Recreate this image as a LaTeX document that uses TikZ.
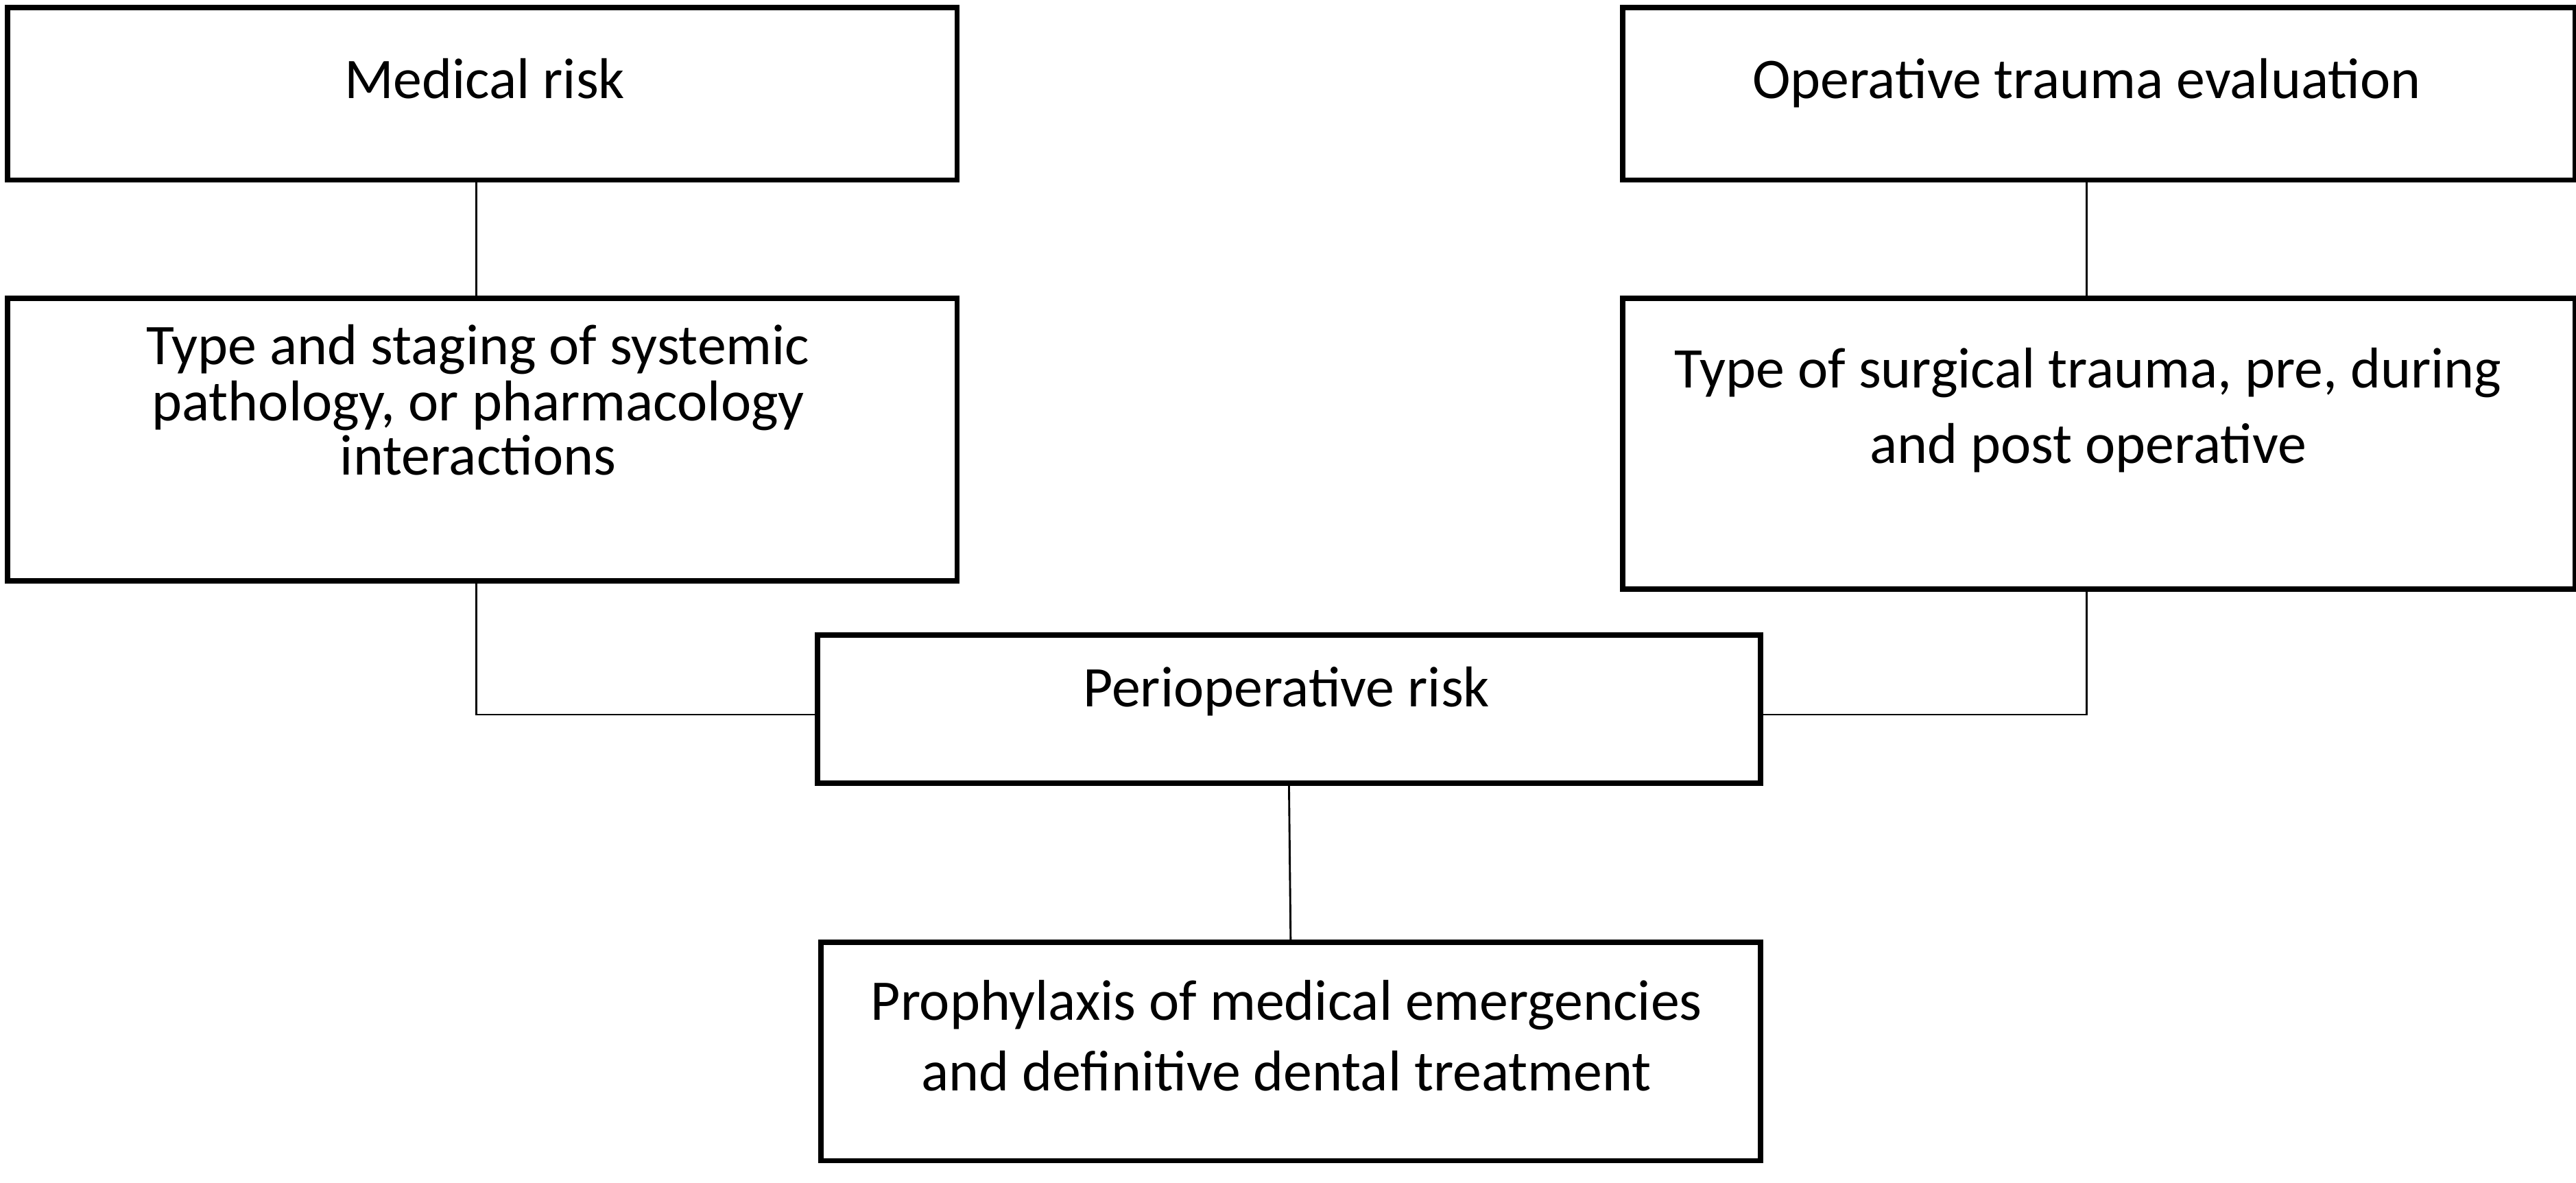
\documentclass[tikz,border=0pt]{standalone}
\usepackage{fontspec}
\setmainfont{Carlito}
\begin{document}
\begin{tikzpicture}[x=0.5pt,y=-0.5pt,
 box/.style={draw,line width=1.6pt,inner sep=0pt,anchor=north west},
 txt/.style={anchor=base,inner sep=0pt,font=\fontsize{17.5}{20}\selectfont},
 ln/.style={line width=0.6pt}]
\useasboundingbox (0,0) rectangle (1568,720);
\node[box,minimum width=289pt,minimum height=52.5pt] (mr) at (3,3) {};
\node[txt] (mrt) at (295,60) {Medical risk};
\node[box,minimum width=290pt,minimum height=52.5pt] (ot) at (986,3) {};
\node[txt] (ott) at (1270,60) {Operative trauma evaluation};
\node[box,minimum width=289pt,minimum height=86pt] (tl) at (3,180) {};
\node[txt] (tl1) at (291,222) {Type and staging of systemic};
\node[txt] (tl2) at (291,256) {pathology, or pharmacology};
\node[txt] (tl3) at (291,289) {interactions};
\node[box,minimum width=290pt,minimum height=88.5pt] (tr) at (986,180) {};
\node[txt] (tr1) at (1271,236) {Type of surgical trauma, pre, during};
\node[txt] (tr2) at (1271,282) {and post operative};
\node[box,minimum width=287pt,minimum height=45pt] (pr) at (496,385) {};
\node[txt] (prt) at (783,430) {Perioperative risk};
\node[box,minimum width=286pt,minimum height=66.5pt] (pp) at (498,572) {};
\node[txt] (pp1) at (783,621) {Prophylaxis of medical emergencies};
\node[txt] (pp2) at (783,664) {and definitive dental treatment};
\coordinate (lc) at (290,435);
\coordinate (rc) at (1270,435);
\draw[ln] (290,0|-mr.south) -- (290,0|-tl.north);
\draw[ln] (1270,0|-ot.south) -- (1270,0|-tr.north);
\draw[ln] (290,0|-tl.south) -- (lc) -- (pr.west|-lc);
\draw[ln] (1270,0|-tr.south) -- (rc) -- (pr.east|-rc);
\draw[ln] (pr.south) -- (pp.north);
\end{tikzpicture}
\end{document}
